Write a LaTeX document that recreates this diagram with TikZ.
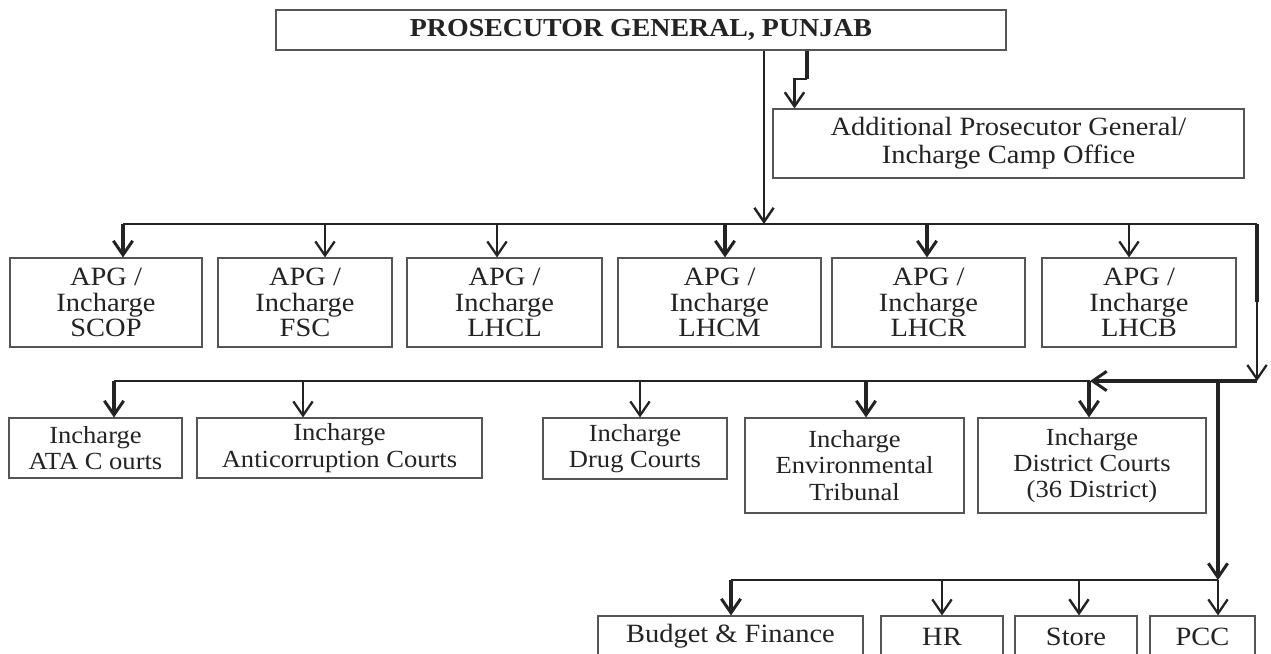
\documentclass[tikz,border=0pt]{standalone}
\usepackage{fontspec}
\setmainfont{Liberation Serif}[FakeStretch=1.08]
\usetikzlibrary{arrows.meta}
\definecolor{ink}{HTML}{232323}
\definecolor{frame}{HTML}{555555}
\newcommand{\orgbox}[6]{\node[box, minimum width={(#4-#2)*0.02cm}, minimum height={(#5-#3)*0.02cm}] (#1) at ({(#2+#4)/2},{(#3+#5)/2}) {#6};}
\begin{document}
\begin{tikzpicture}[x=0.02cm,y=-0.02cm,
 txt/.style={text=ink, font=\fontsize{14pt}{15pt}\selectfont},
 big/.style={font=\fontsize{15pt}{14.6pt}\selectfont},
 box/.style={draw=frame, line width=0.6pt, rectangle, inner sep=0pt, align=center, txt},
 thinline/.style={draw=ink, line width=0.8pt},
 thinarr/.style={draw=ink, line width=1pt, -{Straight Barb[length=8pt,width=11pt,line width=1.3pt]}},
 midarr/.style={draw=ink, line width=1.3pt, -{Straight Barb[length=8pt,width=11pt,line width=1.4pt]}},
 thickarr/.style={draw=ink, line width=1.9pt, -{Straight Barb[length=8pt,width=11pt,line width=1.7pt]}},
 thickline/.style={draw=ink, line width=1.9pt},
]
\clip (0,0) rectangle (1271,653);
\fill[white] (0,0) rectangle (1271,653);

% boxes
\tikzset{box/.append style={}}
\begin{scope}[box/.append style={font=\fontsize{14.7pt}{15pt}\selectfont}]
\orgbox{pg}{276}{10}{1006}{50}{\bfseries PROSECUTOR GENERAL, PUNJAB}
\end{scope}
\begin{scope}[box/.append style={font=\fontsize{15pt}{16pt}\selectfont}]
\orgbox{apg}{773}{109}{1244}{178}{Additional Prosecutor General/\\Incharge Camp Office}
\end{scope}

\begin{scope}[box/.append style={big}]
\orgbox{scop}{10}{258}{202}{347}{APG /\\Incharge\\SCOP}
\orgbox{fsc}{218}{258}{392}{347}{APG /\\Incharge\\FSC}
\orgbox{lhcl}{407}{258}{602}{347}{APG /\\Incharge\\LHCL}
\orgbox{lhcm}{618}{258}{821}{347}{APG /\\Incharge\\LHCM}
\orgbox{lhcr}{832}{258}{1025}{347}{APG /\\Incharge\\LHCR}
\orgbox{lhcb}{1042}{258}{1236}{347}{APG /\\Incharge\\LHCB}
\end{scope}

\orgbox{ata}{9}{418}{182}{478}{Incharge\\ATA C ourts}
\orgbox{anti}{197}{418}{482}{478}{Incharge\\Anticorruption Courts}
\orgbox{drug}{543}{418}{727}{479}{Incharge\\Drug Courts}
\orgbox{env}{745}{418}{964}{513}{Incharge\\Environmental\\Tribunal}
\orgbox{dist}{978}{418}{1206}{513}{Incharge\\District Courts\\(36 District)}

\orgbox{bud}{598}{616}{863}{700}{}
\orgbox{hr}{881}{616}{1003}{700}{}
\orgbox{store}{1015}{616}{1137}{700}{}
\orgbox{pcc}{1150}{616}{1255}{700}{}
\node[txt, big] (budt) at (bud.north) [yshift=-0.42cm] {Budget \& Finance};
\node[txt, big] (hrt) at (hr.north) [yshift=-0.42cm] {HR};
\node[txt, big] (storet) at (store.north) [yshift=-0.42cm] {Store};
\node[txt, big] (pcct) at (pcc.north) [yshift=-0.42cm] {PCC};

% coordinates
\coordinate (m1) at (764,224);
\coordinate (j1) at (807,79);
\coordinate (j2) at (794.5,79);
\coordinate (b1l) at (123,224);
\coordinate (r1) at (1257,224);
\coordinate (r2) at (1257,302);
\coordinate (r3) at (1257,381);
\coordinate (h2) at (1090,381);
\coordinate (b2l) at (114,381);
\coordinate (v1) at (1218,381);
\coordinate (v2) at (1218,580);
\coordinate (b3l) at (731,580);

% top connectors
\draw[midarr] (pg.south -| m1) -- (m1);
\draw[thickline] (pg.south -| j1) -- (j1);
\draw[midarr] (j1) -- (j2) -- (j2 |- apg.north);

% level 1 bus
\draw[thinline] (b1l) -- (r1);
\coordinate (a1) at (123,224);
\coordinate (a2) at (325,224);
\coordinate (a3) at (497,224);
\coordinate (a4) at (725,224);
\coordinate (a5) at (927,224);
\coordinate (a6) at (1129,224);
\draw[thickarr] (a1) -- (a1 |- scop.north);
\draw[thinarr] (a2) -- (a2 |- fsc.north);
\draw[thinarr] (a3) -- (a3 |- lhcl.north);
\draw[thickarr] (a4) -- (a4 |- lhcm.north);
\draw[thickarr] (a5) -- (a5 |- lhcr.north);
\draw[thinarr] (a6) -- (a6 |- lhcb.north);

% right side
\draw[thickline] (r1) -- (r2);
\draw[thinarr] (r2) -- (r3);
\draw[thickarr] (r3) -- (h2);

% level 2 bus
\draw[thinline] (b2l) -- (h2);
\coordinate (c1) at (114,381);
\coordinate (c2) at (303,381);
\coordinate (c3) at (640,381);
\coordinate (c4) at (866,381);
\coordinate (c5) at (1089,381);
\draw[thickarr] (c1) -- (c1 |- ata.north);
\draw[thinarr] (c2) -- (c2 |- anti.north);
\draw[thinarr] (c3) -- (c3 |- drug.north);
\draw[thickarr] (c4) -- (c4 |- env.north);
\draw[thickarr] (c5) -- (c5 |- dist.north);

% level 3
\draw[thickarr] (v1) -- (v2);
\draw[thinline] (b3l) -- (v2);
\coordinate (d1) at (731,580);
\coordinate (d2) at (942,580);
\coordinate (d3) at (1079,580);
\coordinate (d4) at (1218,580);
\draw[thickarr] (d1) -- (d1 |- bud.north);
\draw[thinarr] (d2) -- (d2 |- hr.north);
\draw[midarr] (d3) -- (d3 |- store.north);
\draw[thinarr] (d4) -- (d4 |- pcc.north);
\end{tikzpicture}
\end{document}
